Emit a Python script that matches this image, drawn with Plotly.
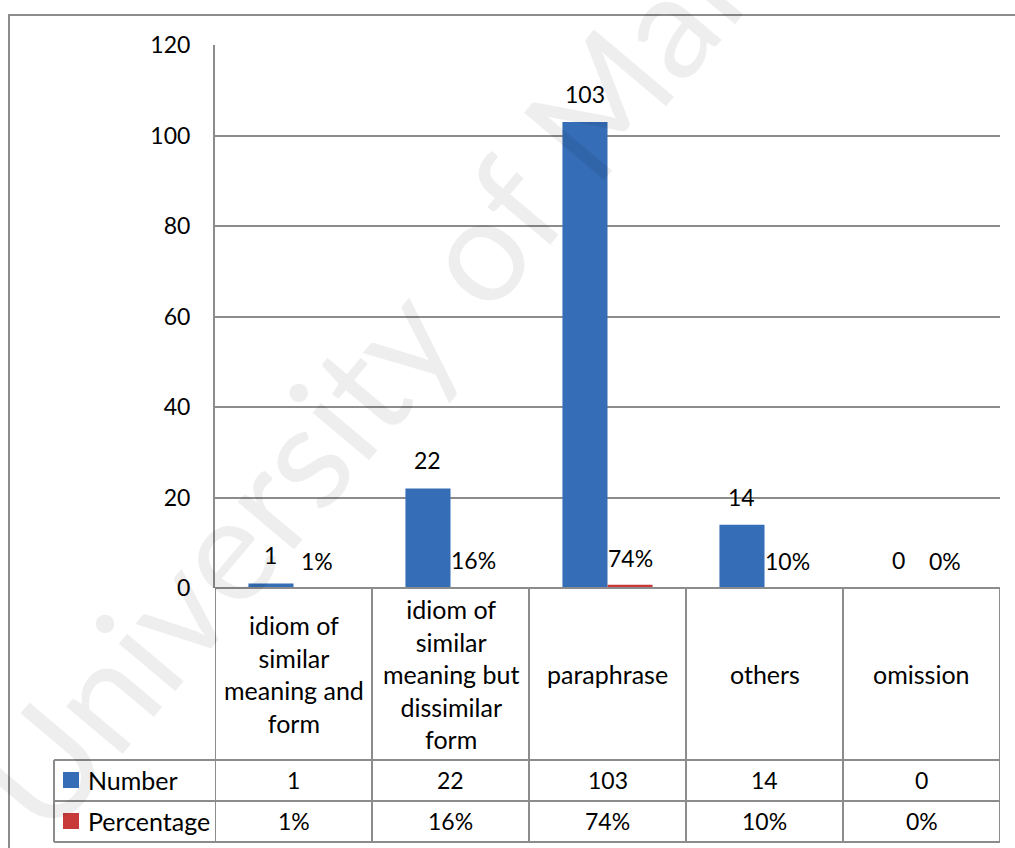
import textwrap
import plotly.graph_objects as go

# ---------------- data ----------------
categories = [
    "idiom of similar meaning and form",
    "idiom of similar meaning but dissimilar form",
    "paraphrase",
    "others",
    "omission",
]
number_values = [1, 22, 103, 14, 0]
percentage_values = [0.01, 0.16, 0.74, 0.10, 0.0]
series_names = ["Number", "Percentage"]
y_ticks = [0, 20, 40, 60, 80, 100, 120]
watermark = "University of Malaya"

# ---------------- layout helpers ----------------
W, H = 1015, 848
L, R, T, B = 215, 1000, 45, 588          # plot area in pixels


def px(X):
    return (X - L) / (R - L)


def py(Y):
    return (B - Y) / (B - T)


FONT = "Lato, 'Open Sans', sans-serif"
FS_NUM = 23
FS_TXT = 25
GRID = "#8c8c8c"
BLUE = "#356DB6"
RED = "#C83A3A"

xs = list(range(len(categories)))
pct_text = [f"{round(v * 100)}%" for v in percentage_values]

fig = go.Figure()
fig.add_trace(go.Bar(x=xs, y=number_values, name=series_names[0],
                     marker=dict(color=BLUE, line=dict(width=0))))
fig.add_trace(go.Bar(x=xs, y=percentage_values, name=series_names[1],
                     marker=dict(color=RED, line=dict(width=0))))

annotations = []
shapes = []


def note(**kw):
    kw.setdefault("showarrow", False)
    kw.setdefault("xanchor", "center")
    kw.setdefault("yanchor", "middle")
    annotations.append(kw)


# data labels above bars
for i, v in enumerate(number_values):
    note(x=i, y=v, xref="x", yref="y", text=str(v), xshift=-23, yshift=12,
         yanchor="bottom", font=dict(family=FONT, size=FS_NUM, color="black"))
for i, v in enumerate(percentage_values):
    note(x=i, y=v, xref="x", yref="y", text=pct_text[i], xshift=23, yshift=11,
         yanchor="bottom", font=dict(family=FONT, size=FS_NUM, color="black"))

# data table: category row, number row, percentage row
for i, c in enumerate(categories):
    lbl = "<br>".join(textwrap.wrap(c, width=12))
    note(x=i, y=py(674), xref="x", yref="paper", text=lbl, align="center",
         font=dict(family=FONT, size=FS_TXT, color="black"))
    note(x=i, y=py(780), xref="x", yref="paper", text=str(number_values[i]),
         font=dict(family=FONT, size=FS_NUM, color="black"))
    note(x=i, y=py(821), xref="x", yref="paper", text=pct_text[i],
         font=dict(family=FONT, size=FS_NUM, color="black"))

# legend column text
note(x=px(86), y=py(780), xref="paper", yref="paper", text=series_names[0],
     xanchor="left", font=dict(family=FONT, size=FS_TXT, color="black"))
note(x=px(86), y=py(821), xref="paper", yref="paper", text=series_names[1],
     xanchor="left", font=dict(family=FONT, size=FS_TXT, color="black"))

# legend keys
shapes.append(dict(type="rect", xref="paper", yref="paper",
                   x0=px(63), x1=px(79), y0=py(788), y1=py(772),
                   fillcolor=BLUE, line=dict(width=0)))
shapes.append(dict(type="rect", xref="paper", yref="paper",
                   x0=px(63), x1=px(79), y0=py(829), y1=py(813),
                   fillcolor=RED, line=dict(width=0)))

line_style = dict(color=GRID, width=2)
# vertical column lines of table
for k in range(len(categories) + 1):
    shapes.append(dict(type="line", xref="x", yref="paper",
                       x0=k - 0.5, x1=k - 0.5, y0=py(842), y1=py(588),
                       line=line_style))
# horizontal table lines
shapes.append(dict(type="line", xref="paper", yref="paper",
                   x0=0, x1=1, y0=py(588), y1=py(588), line=line_style))
for Y in (760, 801, 842):
    shapes.append(dict(type="line", xref="paper", yref="paper",
                       x0=px(54), x1=1, y0=py(Y), y1=py(Y), line=line_style))
# legend column left edge
shapes.append(dict(type="line", xref="paper", yref="paper",
                   x0=px(54), x1=px(54), y0=py(842), y1=py(760),
                   line=line_style))
# outer chart border (extends beyond the page on the right and bottom)
shapes.append(dict(type="rect", xref="paper", yref="paper",
                   x0=px(9), x1=px(1040), y0=py(880), y1=py(15),
                   line=dict(color=GRID, width=2), fillcolor="rgba(0,0,0,0)"))

# watermark
note(x=px(425), y=py(305), xref="paper", yref="paper", text=watermark,
     textangle=-50,
     font=dict(family=FONT, size=146, color="rgba(0,0,0,0.065)"))

fig.update_layout(
    width=W, height=H,
    margin=dict(l=L, r=W - R, t=T, b=H - B, pad=0),
    paper_bgcolor="white", plot_bgcolor="white",
    barmode="group", bargap=0.426, bargroupgap=0,
    showlegend=False,
    font=dict(family=FONT, size=FS_NUM, color="black"),
    xaxis=dict(range=[-0.5, len(categories) - 0.5], showticklabels=False,
               showgrid=False, zeroline=False, showline=False, fixedrange=True),
    yaxis=dict(range=[y_ticks[0], y_ticks[-1]], tickvals=y_ticks,
               showgrid=True, gridcolor=GRID, gridwidth=1.5,
               zeroline=False, showline=True, linecolor=GRID, linewidth=2,
               ticks="", ticklabelstandoff=18,
               tickfont=dict(family=FONT, size=FS_NUM, color="black")),
    annotations=annotations,
    shapes=shapes,
)

fig.write_html("out.html")
